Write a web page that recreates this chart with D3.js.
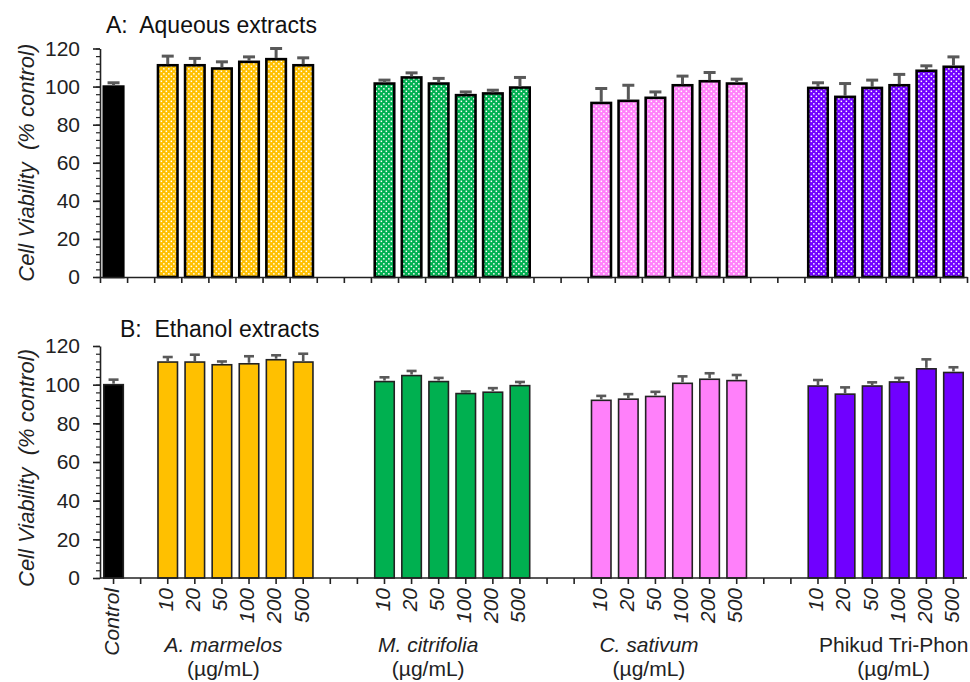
<!DOCTYPE html>
<html>
<head>
<meta charset="utf-8">
<script src="https://cdn.jsdelivr.net/npm/d3@7"></script>
<style>
  body { margin: 0; background: #fff; }
  svg { font-family: "Liberation Sans", Arial, sans-serif; }
</style>
</head>
<body>
<svg id="chart" width="970" height="682"></svg>
<script>
// categories
const doses = ['10', '20', '50', '100', '200', '500'];
const extracts = ['A. marmelos', 'M. citrifolia', 'C. sativum', 'Phikud Tri-Phon'];
const extractItalic = [true, true, true, false];
const yTicks = [0, 20, 40, 60, 80, 100, 120];

// A: aqueous extracts (mean, SD)
const aqueousControl = 100;
const aqueousControlErr = 2.0;
const aqueousMeans = [
  [111.2, 111.2, 109.5, 113.0, 114.4, 111.2],
  [101.6, 104.8, 101.6, 95.5, 96.4, 99.5],
  [91.4, 92.5, 94.1, 100.7, 102.8, 101.6],
  [99.3, 94.6, 99.3, 100.7, 108.3, 110.4]
];
const aqueousErr = [
  [4.8, 3.6, 3.5, 2.6, 5.6, 3.9],
  [1.8, 2.4, 2.7, 1.7, 1.7, 5.3],
  [7.6, 8.2, 3.1, 4.8, 4.6, 2.3],
  [2.7, 7.0, 4.1, 5.7, 2.6, 5.2]
];

// B: ethanol extracts
const ethanolControl = 100;
const ethanolControlErr = 2.6;
const ethanolMeans = [
  [111.7, 111.7, 110.3, 110.8, 112.9, 111.7],
  [101.6, 104.7, 101.6, 95.4, 96.1, 99.5],
  [91.9, 92.5, 93.9, 100.7, 102.8, 102.1],
  [99.3, 95.1, 99.3, 101.4, 108.2, 106.3]
];
const ethanolErr = [
  [2.6, 3.8, 1.7, 3.9, 2.3, 4.3],
  [2.2, 2.4, 1.9, 1.1, 2.1, 1.9],
  [2.3, 2.6, 2.4, 3.6, 3.1, 2.9],
  [3.1, 3.5, 1.9, 2.1, 4.9, 2.7]
];

const palette = ['#FFC000', '#00B050', '#FF80FA', '#7000FF'];
const labelShift = [-12, -24, -20, 8];

const svg = d3.select('#chart');

// slots: control, one gap, then groups separated by two gaps
const slots = ['Control', 'g0'];
extracts.forEach((e, i) => {
  if (i > 0) slots.push(`g${i}a`, `g${i}b`);
  doses.forEach(d => slots.push(`${i}|${d}`));
});

const x = d3.scaleBand()
  .domain(slots)
  .range([100, 967])
  .paddingInner(0.28)
  .paddingOuter(0.14);

// dotted fill patterns for panel A
const defs = svg.append('defs');
palette.forEach((c, i) => {
  const p = defs.append('pattern')
    .attr('id', `dots${i}`)
    .attr('patternUnits', 'userSpaceOnUse')
    .attr('width', 5).attr('height', 5);
  p.append('rect').attr('width', 5).attr('height', 5).attr('fill', c);
  p.append('rect').attr('x', 0.6).attr('y', 0.6).attr('width', 1.5).attr('height', 1.5).attr('fill', '#fff');
  p.append('rect').attr('x', 3.1).attr('y', 3.1).attr('width', 1.5).attr('height', 1.5).attr('fill', '#fff');
});

function buildRows(control, controlErr, means, errs) {
  const rows = [{key: 'Control', mean: control, err: controlErr, group: -1}];
  extracts.forEach((e, i) => {
    doses.forEach((d, j) => rows.push({key: `${i}|${d}`, mean: means[i][j], err: errs[i][j], group: i}));
  });
  return rows;
}

function drawPanel(opts) {
  const y = d3.scaleLinear().domain([0, 120]).range([opts.bottom, opts.top]);
  const g = svg.append('g');

  // title
  g.append('text')
    .attr('x', opts.titleX).attr('y', opts.titleY)
    .attr('font-size', 23)
    .attr('fill', '#111')
    .attr('xml:space', 'preserve')
    .text(opts.title);

  // y axis label
  g.append('text')
    .attr('transform', `translate(34,${(opts.top + opts.bottom) / 2 + opts.labelDy}) rotate(-90)`)
    .attr('text-anchor', 'middle')
    .attr('font-size', 22)
    .attr('font-style', 'italic')
    .attr('fill', '#222')
    .attr('xml:space', 'preserve')
    .text('Cell Viability  (% control)');

  // minor y ticks
  g.append('g')
    .attr('transform', 'translate(100,0)')
    .call(d3.axisLeft(y).tickValues(d3.range(0, 121, 4)).tickSize(4).tickFormat(''))
    .call(s => s.select('.domain').remove())
    .selectAll('line').attr('stroke', '#222').attr('stroke-width', 1.2);

  // major y axis
  g.append('g')
    .attr('transform', 'translate(100,0)')
    .call(d3.axisLeft(y).tickValues(yTicks).tickSizeInner(7).tickSizeOuter(0).tickPadding(13))
    .call(s => s.select('.domain').attr('stroke', '#222').attr('stroke-width', 1.6))
    .call(s => s.selectAll('line').attr('stroke', '#222').attr('stroke-width', 1.6))
    .call(s => s.selectAll('text').attr('font-size', 21).attr('fill', '#222').attr('font-family', null));

  const rows = buildRows(opts.control, opts.controlErr, opts.means, opts.errs);
  const fillOf = d => d.group < 0 ? '#000' : (opts.dotted ? `url(#dots${d.group})` : palette[d.group]);

  // bars
  g.append('g')
    .selectAll('rect')
    .data(rows)
    .join('rect')
    .attr('x', d => x(d.key))
    .attr('y', d => y(d.mean))
    .attr('width', x.bandwidth())
    .attr('height', d => y(0) - y(d.mean))
    .attr('fill', fillOf)
    .attr('stroke', opts.dotted ? '#000' : '#222')
    .attr('stroke-width', opts.dotted ? 2.6 : 1.6);

  // error bars (upper only)
  const eb = g.append('g').attr('stroke', '#595959').attr('stroke-width', opts.dotted ? 3 : 2.6);
  eb.selectAll('line.stem')
    .data(rows)
    .join('line')
    .attr('class', 'stem')
    .attr('x1', d => x(d.key) + x.bandwidth() / 2)
    .attr('x2', d => x(d.key) + x.bandwidth() / 2)
    .attr('y1', d => y(d.mean) - 1)
    .attr('y2', d => y(d.mean + d.err));
  eb.selectAll('line.cap')
    .data(rows)
    .join('line')
    .attr('class', 'cap')
    .attr('x1', d => x(d.key) + x.bandwidth() / 2 - opts.cap)
    .attr('x2', d => x(d.key) + x.bandwidth() / 2 + opts.cap)
    .attr('y1', d => y(d.mean + d.err))
    .attr('y2', d => y(d.mean + d.err));

  // x axis
  if (opts.ticksAtBounds) {
    const xb = d3.scaleLinear().domain([0, slots.length]).range(x.range());
    g.append('g')
      .attr('transform', `translate(0,${opts.bottom})`)
      .call(d3.axisBottom(xb).tickValues(d3.range(slots.length + 1)).tickSizeInner(6).tickSizeOuter(0).tickFormat(''))
      .call(s => s.select('.domain').attr('stroke', '#222').attr('stroke-width', 1.6))
      .call(s => s.selectAll('line').attr('stroke', '#222').attr('stroke-width', 1.6));
  } else {
    const ax = g.append('g')
      .attr('transform', `translate(0,${opts.bottom})`)
      .call(d3.axisBottom(x).tickSizeInner(6).tickSizeOuter(0)
        .tickFormat(k => k === 'Control' ? 'Control' : (k.includes('|') ? k.split('|')[1] : '')))
      .call(s => s.select('.domain').attr('stroke', '#222').attr('stroke-width', 1.6)
        .attr('d', `M${x.range()[0]},0H${x.range()[1]}`))
      .call(s => s.selectAll('line').attr('stroke', '#222').attr('stroke-width', 1.6));
    ax.selectAll('text')
      .attr('font-family', null)
      .attr('font-size', 21)
      .attr('font-style', 'italic')
      .attr('fill', '#222')
      .attr('text-anchor', 'end')
      .attr('transform', 'rotate(-90)')
      .attr('x', -10)
      .attr('y', -2)
      .attr('dy', '0.35em');

    // group labels
    extracts.forEach((e, i) => {
      const first = x(`${i}|${doses[0]}`);
      const last = x(`${i}|${doses[doses.length - 1]}`) + x.bandwidth();
      const cx = (first + last) / 2 + labelShift[i];
      g.append('text')
        .attr('x', cx).attr('y', opts.bottom + 74)
        .attr('text-anchor', 'middle')
        .attr('font-size', 21)
        .attr('font-style', extractItalic[i] ? 'italic' : 'normal')
        .attr('fill', '#222')
        .text(e);
      g.append('text')
        .attr('x', cx).attr('y', opts.bottom + 98)
        .attr('text-anchor', 'middle')
        .attr('font-size', 21)
        .attr('fill', '#222')
        .text('(µg/mL)');
    });
  }
}

drawPanel({
  title: 'A:  Aqueous extracts', titleX: 106, titleY: 33,
  top: 48.5, bottom: 277, labelDy: 0,
  control: aqueousControl, controlErr: aqueousControlErr,
  means: aqueousMeans, errs: aqueousErr,
  dotted: true, cap: 6, ticksAtBounds: true
});

drawPanel({
  title: 'B:  Ethanol extracts', titleX: 120, titleY: 337,
  top: 346, bottom: 578, labelDy: 6,
  control: ethanolControl, controlErr: ethanolControlErr,
  means: ethanolMeans, errs: ethanolErr,
  dotted: false, cap: 5, ticksAtBounds: false
});
</script>
</body>
</html>
